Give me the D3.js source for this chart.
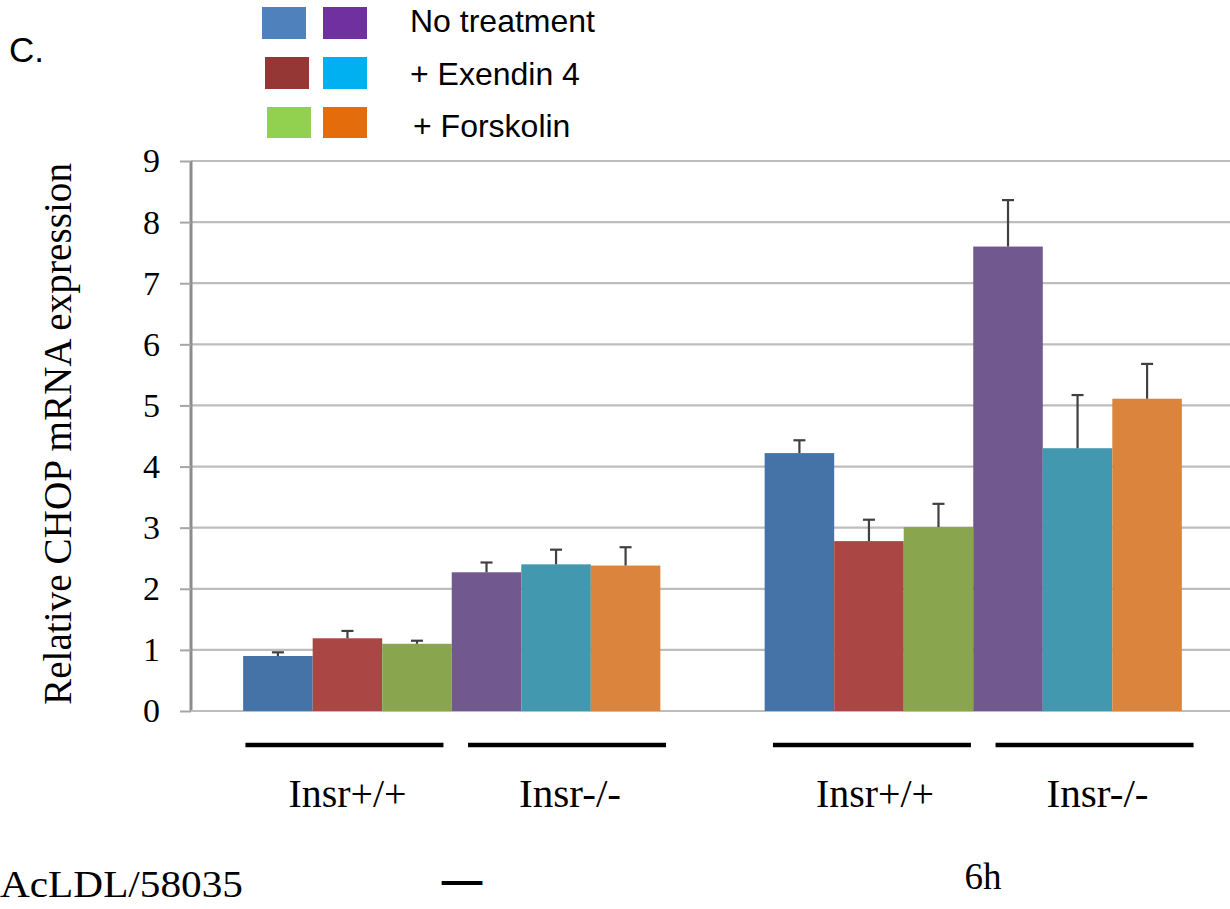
<!DOCTYPE html>
<html>
<head>
<meta charset="utf-8">
<script src="https://cdn.jsdelivr.net/npm/d3@7"></script>
<style>
  html, body { margin: 0; padding: 0; background: #fff; }
  svg { display: block; }
</style>
</head>
<body>
<svg id="chart" width="1230" height="909"></svg>
<script>
// Time points (AcLDL/58035 treatment) shown as the two bar groups
const timeGroups = ["—", "6h"];
// Bars within each group: genotype × treatment
const barKeys = ["wt_none", "wt_ex4", "wt_fsk", "ko_none", "ko_ex4", "ko_fsk"];
// Relative CHOP mRNA expression (mean) per group, in barKeys order
const meanNoAcLDL = [0.90, 1.19, 1.10, 2.27, 2.40, 2.38];
const mean6h      = [4.22, 2.78, 3.01, 7.60, 4.30, 5.11];
// Upper end of the error bars (mean + SD)
const upperNoAcLDL = [0.96, 1.31, 1.15, 2.43, 2.64, 2.68];
const upper6h      = [4.43, 3.13, 3.39, 8.36, 5.17, 5.68];
// Axis ticks
const yTicks = [0, 1, 2, 3, 4, 5, 6, 7, 8, 9];
// Genotype labels under each half group
const genotypes = ["Insr+/+", "Insr-/-"];
// Legend
const legendLabels = ["No treatment", "+ Exendin 4", "+ Forskolin"];
const legendWtColors = ["#4f81bd", "#953735", "#92d050"];
const legendKoColors = ["#7030a0", "#00b0f0", "#e46c0a"];
// Bar fills
const barColors = ["#4572a7", "#aa4643", "#89a54e", "#71588f", "#4198af", "#db843d"];

const rows = [
  { group: timeGroups[0], means: meanNoAcLDL, uppers: upperNoAcLDL },
  { group: timeGroups[1], means: mean6h, uppers: upper6h }
];

const svg = d3.select("#chart");
const serif = "'Liberation Serif', 'Times New Roman', serif";
const sans = "'Liberation Sans', Arial, sans-serif";

const plot = { left: 191, right: 1234, top: 161, bottom: 711 };

const y = d3.scaleLinear().domain([0, 9]).range([plot.bottom, plot.top]);
const x0 = d3.scaleBand().domain(timeGroups).range([plot.left, plot.right])
  .paddingInner(0.2).paddingOuter(0.1);
const x1 = d3.scaleBand().domain(barKeys).range([0, x0.bandwidth()]).padding(0);
const color = d3.scaleOrdinal().domain(barKeys).range(barColors);

// Horizontal gridlines
svg.append("g").selectAll("line").data(yTicks.filter(d => d > 0)).join("line")
  .attr("x1", plot.left).attr("x2", plot.right)
  .attr("y1", d => y(d)).attr("y2", d => y(d))
  .attr("stroke", "#bdbdbd").attr("stroke-width", 2.2);

// Y axis
const yAxis = svg.append("g")
  .attr("transform", `translate(${plot.left},0)`)
  .call(d3.axisLeft(y).tickValues(yTicks).tickSize(11).tickPadding(20).tickFormat(d3.format("d")));
yAxis.select(".domain").attr("stroke", "#8c8c8c").attr("stroke-width", 3)
  .attr("d", `M0,${plot.top}V${plot.bottom}`);
yAxis.selectAll(".tick line").attr("stroke", "#a6a6a6").attr("stroke-width", 2);
yAxis.selectAll(".tick text").attr("font-family", serif).attr("font-size", 34)
  .attr("fill", "#000");
// extend the baseline across the plot
svg.append("line").attr("x1", plot.left).attr("x2", plot.right)
  .attr("y1", y(0)).attr("y2", y(0)).attr("stroke", "#bdbdbd").attr("stroke-width", 2.2);

// Bars
const groups = svg.append("g").selectAll("g").data(rows).join("g")
  .attr("transform", d => `translate(${x0(d.group)},0)`);

groups.selectAll("rect").data(d => barKeys.map((k, i) => ({ key: k, value: d.means[i] })))
  .join("rect")
  .attr("x", d => x1(d.key))
  .attr("width", x1.bandwidth())
  .attr("y", d => y(d.value))
  .attr("height", d => y(0) - y(d.value))
  .attr("fill", d => color(d.key));

// Error bars (upper only)
const err = groups.selectAll("g.err")
  .data(d => barKeys.map((k, i) => ({ key: k, value: d.means[i], upper: d.uppers[i] })))
  .join("g").attr("class", "err")
  .attr("stroke", "#404040").attr("stroke-width", 2.2);
err.append("line")
  .attr("x1", d => x1(d.key) + x1.bandwidth() / 2).attr("x2", d => x1(d.key) + x1.bandwidth() / 2)
  .attr("y1", d => y(d.value)).attr("y2", d => y(d.upper));
err.append("line")
  .attr("x1", d => x1(d.key) + x1.bandwidth() / 2 - 6).attr("x2", d => x1(d.key) + x1.bandwidth() / 2 + 6)
  .attr("y1", d => y(d.upper)).attr("y2", d => y(d.upper));

// Genotype brackets and labels under each half group
const halfOffset = x0.bandwidth() / 4;
const labelWidth = { "Insr+/+": 118, "Insr-/-": 102 };
const annot = [];
timeGroups.forEach((g, gi) => {
  genotypes.forEach((gt, j) => {
    const c = x0(g) + x0.bandwidth() / 2 + (j === 0 ? -1 : 1) * (halfOffset + 7) + (gi === 0 ? 0 : 6) + 4;
    annot.push({ label: gt, cx: c });
  });
});
svg.append("g").selectAll("line").data(annot).join("line")
  .attr("x1", d => d.cx - 99).attr("x2", d => d.cx + 99)
  .attr("y1", 745).attr("y2", 745)
  .attr("stroke", "#000").attr("stroke-width", 4.5);
svg.append("g").selectAll("text").data(annot).join("text")
  .attr("x", d => d.cx + 3).attr("y", 807)
  .attr("text-anchor", "middle")
  .attr("font-family", serif).attr("font-size", 41)
  .attr("textLength", d => labelWidth[d.label]).attr("lengthAdjust", "spacingAndGlyphs")
  .text(d => d.label);

// Treatment row
svg.append("text").attr("x", 0).attr("y", 897)
  .attr("font-family", serif).attr("font-size", 38)
  .attr("textLength", 243).attr("lengthAdjust", "spacingAndGlyphs")
  .text("AcLDL/58035");
svg.append("g").selectAll("text").data(timeGroups).join("text")
  .attr("x", (d, i) => i === 0 ? 462 : 983)
  .attr("y", (d, i) => i === 0 ? 892 : 889)
  .attr("text-anchor", "middle")
  .attr("font-family", serif)
  .attr("font-size", (d, i) => i === 0 ? 38 : 37)
  .attr("stroke", (d, i) => i === 0 ? "#000" : "none")
  .attr("stroke-width", 2.2)
  .text(d => d);

// Y-axis title
svg.append("text")
  .attr("transform", `translate(71,434) rotate(-90)`)
  .attr("text-anchor", "middle")
  .attr("font-family", serif).attr("font-size", 39)
  .attr("textLength", 542).attr("lengthAdjust", "spacingAndGlyphs")
  .text("Relative CHOP mRNA expression");

// Panel letter
svg.append("text").attr("x", 9).attr("y", 62)
  .attr("font-family", sans).attr("font-size", 35)
  .text("C.");

// Legend
const legendRowY = [7, 57, 107];
const legendWtX = [262, 265, 267];
const legend = svg.append("g").selectAll("g").data(legendLabels).join("g");
legend.append("rect")
  .attr("x", (d, i) => legendWtX[i]).attr("y", (d, i) => legendRowY[i])
  .attr("width", 44).attr("height", (d, i) => i === 2 ? 31 : 32)
  .attr("fill", (d, i) => legendWtColors[i]);
legend.append("rect")
  .attr("x", 323).attr("y", (d, i) => legendRowY[i])
  .attr("width", 44).attr("height", (d, i) => i === 2 ? 31 : 32)
  .attr("fill", (d, i) => legendKoColors[i]);
legend.append("text")
  .attr("x", (d, i) => i === 2 ? 413 : 410)
  .attr("y", (d, i) => [32, 85, 137][i])
  .attr("font-family", sans).attr("font-size", 32)
  .text(d => d);
</script>
</body>
</html>
